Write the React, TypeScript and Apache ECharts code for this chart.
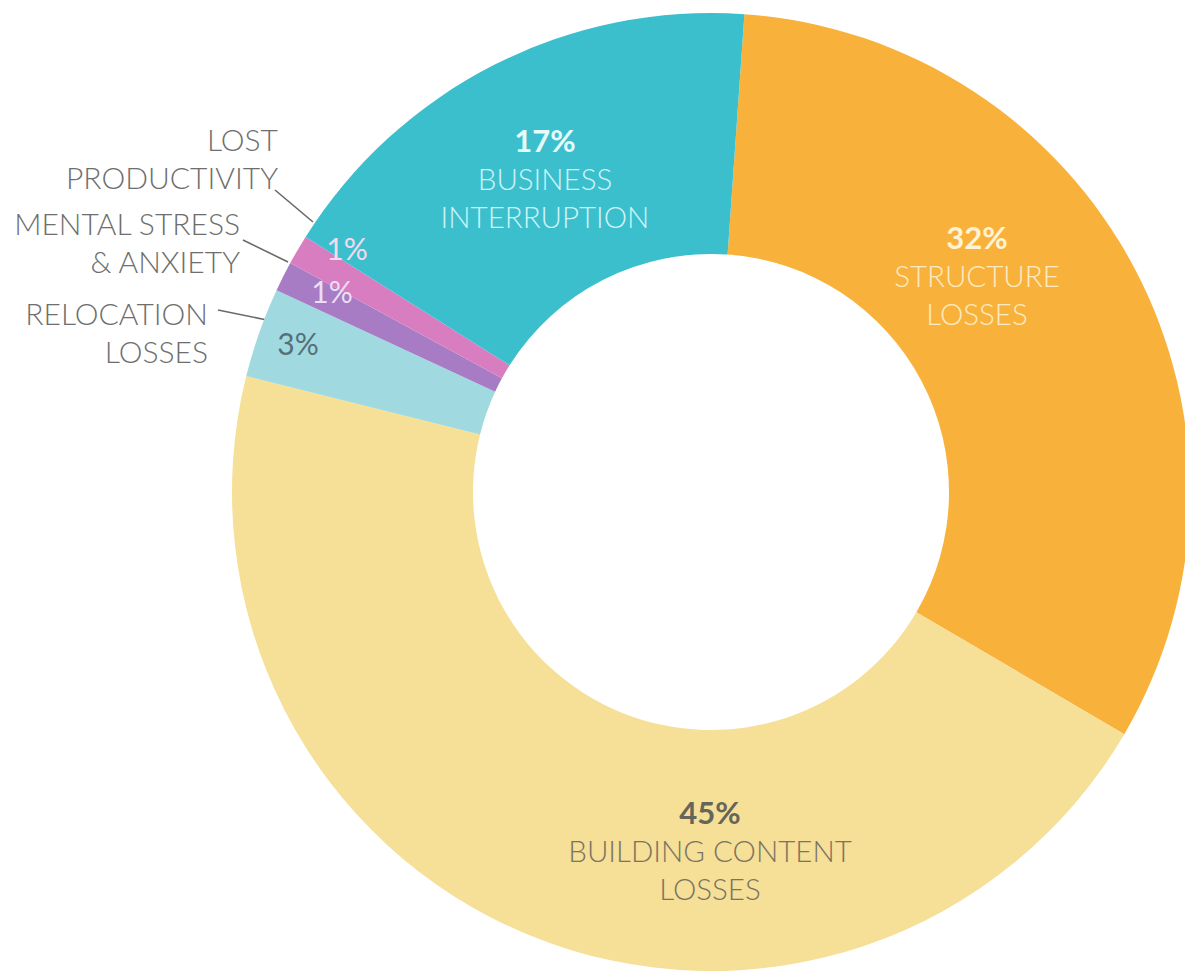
import React, { useEffect, useRef } from "react";
import * as echarts from "echarts";

const categories = [
  "STRUCTURE\nLOSSES",
  "BUILDING CONTENT\nLOSSES",
  "RELOCATION\nLOSSES",
  "MENTAL STRESS\n& ANXIETY",
  "LOST\nPRODUCTIVITY",
  "BUSINESS\nINTERRUPTION",
];
const shares = [32, 45, 3, 1, 1, 17];
const sliceColors = ["#F8B23B", "#F6DF97", "#A0DAE0", "#A77CC5", "#D97DC1", "#3CBFCD"];

// label placement (block centres) per slice
const labelPos: [number, number][] = [
  [977, 275],
  [710, 850],
  [298, 343],
  [332, 291],
  [347, 248],
  [545, 178],
];
const insideName = [true, true, false, false, false, true];
const pctBold = [true, true, false, false, false, true];
const pctColor = ["#FFF3D4", "#66655A", "#55707A", "#EBDDF5", "#F7D9EF", "#E6FBFC"];
const nameColor = ["#FCEBC2", "#7A7462", "#6E6E6E", "#6E6E6E", "#6E6E6E", "#CDF4F6"];

// outside name labels for the thin slices (right edge x, first line centre y) and leader lines
const outsideName: Record<number, { x: number; y: number; line: number[][] }> = {
  2: { x: 208, y: 313, line: [[218, 310], [267, 320]] },
  3: { x: 240, y: 223, line: [[243, 240], [288, 262]] },
  4: { x: 278, y: 139, line: [[275, 190], [313, 222]] },
};

const FONT = "Lato, 'Noto Sans', sans-serif";

export default function App() {
  const ref = useRef<HTMLDivElement>(null);
  useEffect(() => {
    const chart = echarts.init(ref.current!, undefined, { renderer: "svg" });
    const data = categories.map((name, i) => ({
      name,
      value: shares[i],
      itemStyle: { color: sliceColors[i] },
      label: {
        show: true,
        position: "inside",
        formatter: () =>
          insideName[i]
            ? `{p|${shares[i]}%}\n` + name.split("\n").map((s) => `{n|${s}}`).join("\n")
            : `{p|${shares[i]}%}`,
        rich: {
          p: {
            fontFamily: FONT,
            fontSize: pctBold[i] ? 31 : 30,
            fontWeight: pctBold[i] ? "bold" : "normal",
            color: pctColor[i],
            lineHeight: 38,
            align: "center",
          },
          n: {
            fontFamily: FONT,
            fontSize: 29.5,
            fontWeight: 300,
            color: nameColor[i],
            lineHeight: 38,
            align: "center",
          },
        },
      },
      labelLine: { show: false },
    }));

    const graphics: any[] = [];
    Object.keys(outsideName).forEach((k) => {
      const idx = Number(k);
      const o = outsideName[idx];
      const lines = categories[idx].split("\n");
      lines.forEach((t, j) => {
        graphics.push({
          type: "text",
          x: o.x,
          y: o.y + j * 38,
          style: {
            text: t,
            fontFamily: FONT,
            fontSize: 30,
            fontWeight: 300,
            fill: "#6E6E6E",
            textAlign: "right",
            textVerticalAlign: "middle",
          },
        });
      });
      graphics.push({
        type: "line",
        shape: { x1: o.line[0][0], y1: o.line[0][1], x2: o.line[1][0], y2: o.line[1][1] },
        style: { stroke: "#6A6A6A", lineWidth: 1.6 },
      });
    });

    chart.setOption({
      animation: false,
      backgroundColor: "#FFFFFF",
      series: [
        {
          type: "pie",
          center: [711, 492],
          radius: [238, 479],
          startAngle: 86,
          clockwise: true,
          avoidLabelOverlap: false,
          silent: true,
          data,
          labelLayout: (params: any) => {
            const p = labelPos[params.dataIndex];
            return { x: p[0], y: p[1], align: "center", verticalAlign: "middle" };
          },
        },
      ],
      graphic: graphics,
    });
    return () => chart.dispose();
  }, []);
  return (
    <div
      ref={ref}
      style={{ position: "absolute", left: 0, top: 0, width: 1185, height: 975 }}
    />
  );
}
